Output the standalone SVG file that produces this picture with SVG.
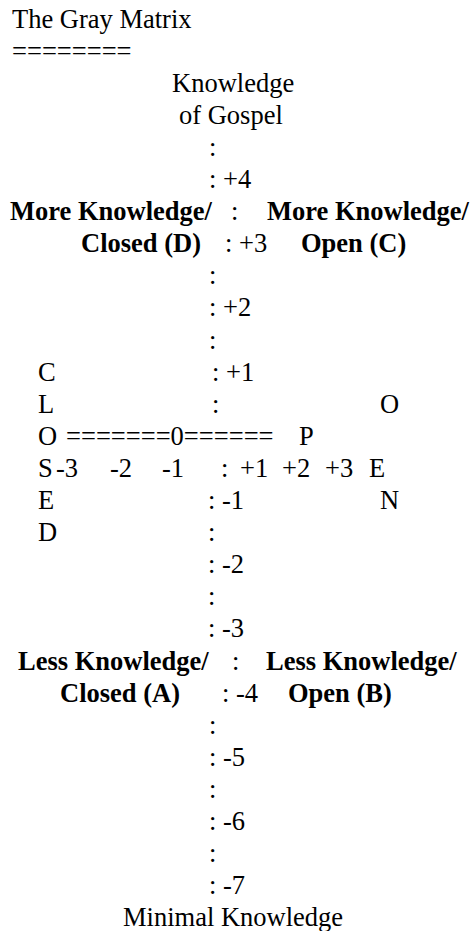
<svg xmlns="http://www.w3.org/2000/svg" width="472" height="931" viewBox="0 0 472 931">
<style>
text{font-family:"Liberation Serif","Times New Roman",Times,serif;font-size:26.5px;fill:#000}
.b{font-weight:bold}
</style>
<rect width="472" height="931" fill="#fff"/>
<g id="title">
<text x="12" y="27.5">The Gray Matrix</text>
<text x="12" y="59.6">========</text>
</g>
<g id="top-label">
<text x="172" y="91.7">Knowledge</text>
<text x="179" y="123.8">of Gospel</text>
</g>
<g id="axis-upper">
<text x="209" y="155.9">:</text>
<text x="209" y="188">: +4</text>
<text x="231" y="220.1">:</text>
<text x="225" y="252.2">: +3</text>
<text x="209" y="284.3">:</text>
<text x="209" y="316.4">: +2</text>
<text x="209" y="348.5">:</text>
<text x="212" y="380.6">: +1</text>
<text x="212" y="412.7">:</text>
</g>
<g id="quadrant-d">
<text class="b" x="10" y="220.1">More Knowledge/</text>
<text class="b" x="81" y="252.2">Closed (D)</text>
</g>
<g id="quadrant-c">
<text class="b" x="267" y="220.1">More Knowledge/</text>
<text class="b" x="301" y="252.2">Open (C)</text>
</g>
<g id="closed-label">
<text x="38" y="380.6">C</text>
<text x="38" y="412.7">L</text>
<text x="38" y="444.8">O</text>
<text x="38" y="476.9">S</text>
<text x="38" y="509">E</text>
<text x="38" y="541.1">D</text>
</g>
<g id="open-label">
<text x="380" y="412.7">O</text>
<text x="299" y="444.8">P</text>
<text x="369" y="476.9">E</text>
<text x="380" y="509">N</text>
</g>
<g id="horizontal-axis">
<text x="66" y="444.8">=======0======</text>
<text x="56" y="476.9">-3</text>
<text x="110" y="476.9">-2</text>
<text x="162" y="476.9">-1</text>
<text x="221" y="476.9">:</text>
<text x="240" y="476.9">+1</text>
<text x="282" y="476.9">+2</text>
<text x="325" y="476.9">+3</text>
</g>
<g id="axis-lower">
<text x="208" y="509">: -1</text>
<text x="208" y="541.1">:</text>
<text x="208" y="573.2">: -2</text>
<text x="208" y="605.3">:</text>
<text x="208" y="637.4">: -3</text>
<text x="232" y="669.5">:</text>
<text x="222" y="701.6">: -4</text>
<text x="209" y="733.7">:</text>
<text x="209" y="765.8">: -5</text>
<text x="209" y="797.9">:</text>
<text x="209" y="830">: -6</text>
<text x="209" y="862.1">:</text>
<text x="209" y="894.2">: -7</text>
</g>
<g id="quadrant-a">
<text class="b" x="18" y="669.5">Less Knowledge/</text>
<text class="b" x="60" y="701.6">Closed (A)</text>
</g>
<g id="quadrant-b">
<text class="b" x="266" y="669.5">Less Knowledge/</text>
<text class="b" x="288" y="701.6">Open (B)</text>
</g>
<g id="bottom-label">
<text x="123" y="926.3">Minimal Knowledge</text>
</g>
</svg>
